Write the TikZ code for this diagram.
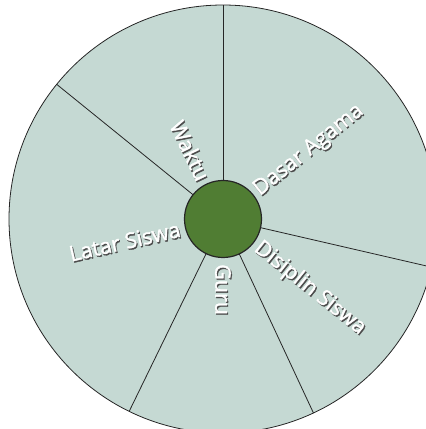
\documentclass[tikz,border=0pt]{standalone}
\usepackage{fontspec}
\setmainfont{Open Sans}
\newfontfamily\lblfont{Open Sans}[FakeBold=1.6]
\usetikzlibrary{calc}
\definecolor{sector}{RGB}{197,217,211}
\definecolor{hubgreen}{RGB}{80,125,51}
\begin{document}
\begin{tikzpicture}[x=1pt,y=1pt,
  spoke/.style={draw=black!85, line width=0.8pt},
  lbl/.style={text=white, font=\lblfont\fontsize{21.5}{24}\selectfont, inner sep=0pt},
  shd/.style={text=black!70, font=\lblfont\fontsize{21.5}{24}\selectfont, inner sep=0pt}]
\useasboundingbox (0,0) rectangle (426,429);
\coordinate (c) at (223,210);
\node[circle, fill=sector, draw=black!85, line width=0.8pt, minimum size=428pt, inner sep=0pt, outer sep=0pt] (big) at (c) {};
\node[circle, fill=hubgreen, draw=black!85, line width=1.2pt, minimum size=77pt, inner sep=0pt, outer sep=0pt] (hub) at (c) {};
\foreach \a in {90,141.43,244.29,295.71,347.14}
  \draw[spoke] (hub.\a) -- (big.\a);
% labels (shadow + white)
\node[shd, rotate=38.57, anchor=west] (dasarS) at ($(c)+(38.57:43)+(1.1,-1.4)$) {Dasar Agama};
\node[lbl, rotate=38.57, anchor=west] (dasar) at ($(c)+(38.57:43)$) {Dasar Agama};
\node[shd, rotate=-38.57, anchor=west] (disS) at ($(c)+(321.43:43)+(1.1,-1.4)$) {Disiplin Siswa};
\node[lbl, rotate=-38.57, anchor=west] (dis) at ($(c)+(321.43:43)$) {Disiplin Siswa};
\node[shd, rotate=-90, anchor=west] (guruS) at ($(c)+(270:45)+(1.1,-1.4)$) {Guru};
\node[lbl, rotate=-90, anchor=west] (guru) at ($(c)+(270:45)$) {Guru};
\node[shd, rotate=12.86, anchor=east] (latarS) at ($(c)+(192.86:44)+(1.1,-1.4)$) {Latar Siswa};
\node[lbl, rotate=12.86, anchor=east] (latar) at ($(c)+(192.86:44)$) {Latar Siswa};
\node[shd, rotate=-64.29, anchor=east] (waktuS) at ($(c)+(115.71:44)+(1.1,-1.4)$) {Waktu};
\node[lbl, rotate=-64.29, anchor=east] (waktu) at ($(c)+(115.71:44)$) {Waktu};
\end{tikzpicture}
\end{document}
